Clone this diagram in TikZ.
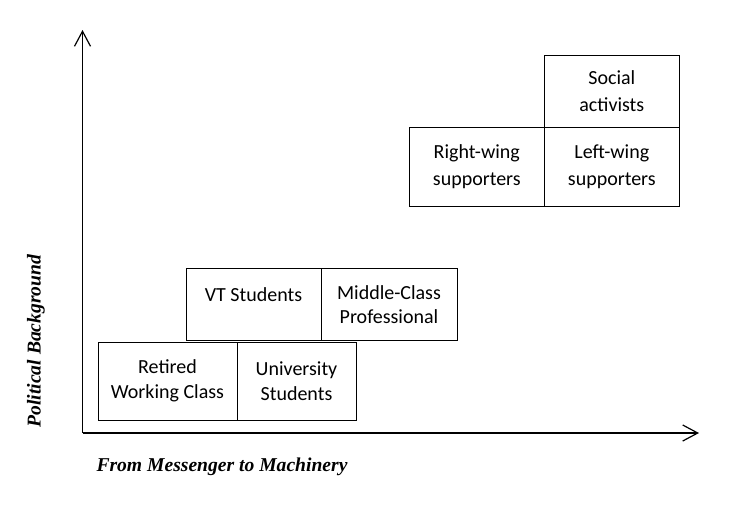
\documentclass[tikz,border=0pt]{standalone}
\usepackage{fontspec}
\setmainfont{Carlito}
\newfontfamily\axisfont{Liberation Serif}
\usepackage{tikz}
\usetikzlibrary{positioning,arrows.meta}

\tikzset{
  group/.style={draw, line width=1pt, inner sep=0pt, outer sep=0pt, align=center,
    font=\fontsize{20}{24.5}\selectfont},
  wide group/.style={group, font=\fontsize{20}{27}\selectfont},
  axis/.style={line width=1.4pt, -{Straight Barb[length=15pt,width=16pt,line width=1.2pt]}},
  axislabel/.style={font=\axisfont\fontsize{19.6}{21}\selectfont\bfseries\itshape}
}

\begin{document}
\begin{tikzpicture}[x=1pt, y=-1pt]
\useasboundingbox (0,0) rectangle (730,507);

\coordinate (O) at (82.5, 433); % origin of the axes
\coordinate (YT) at (82.5, 30);
\coordinate (XT) at (699, 433);

% axes
\draw[axis] (O) -- (YT);
\draw[axis] (O) -- (XT);

% lower row
\node[group, anchor=north west, minimum width=139pt, minimum height=78pt] (retired) at (98, 342) {Retired\\Working Class};
\node[group, right=0pt of retired, minimum width=119pt, minimum height=78pt] (univ) {University\\Students};

% middle row
\node[group, anchor=north west, minimum width=135pt, minimum height=72pt, text height=14pt, text depth=21pt] (vt) at (186, 268.5) {VT Students};
\node[group, right=0pt of vt, minimum width=136pt, minimum height=72pt] (middle) {Middle-Class\\Professional};

% upper row
\node[wide group, anchor=north west, minimum width=135pt, minimum height=78.5pt] (right) at (409.3, 127.5) {Right-wing\\supporters};
\node[wide group, right=0pt of right, minimum width=135pt, minimum height=78.5pt] (left) {Left-wing\\supporters};
\node[wide group, above=0pt of left, minimum width=135pt, minimum height=72.5pt] (social) {Social\\activists};

% axis labels
\node[axislabel] (xlab) at (222, 467) {From Messenger to Machinery};
\node[axislabel, rotate=90] (ylab) at (36, 341) {Political Background};
\end{tikzpicture}
\end{document}
